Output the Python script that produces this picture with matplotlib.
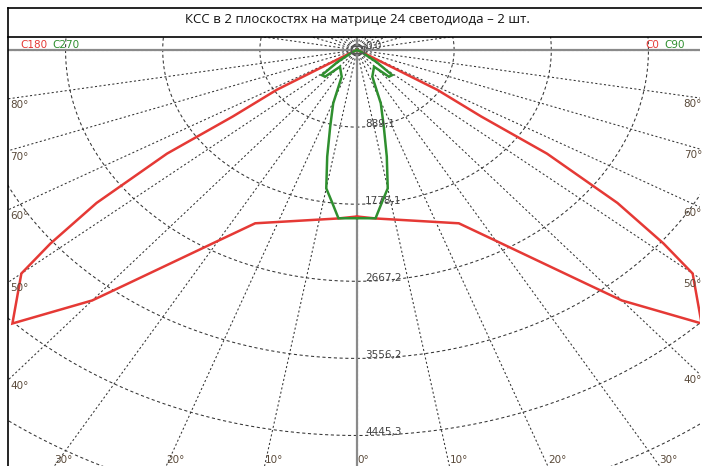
import matplotlib

matplotlib.use("Agg")
import matplotlib.pyplot as plt
import numpy as np
from matplotlib.lines import Line2D

# luminous intensity (angle from nadir, deg -> cd)
ANG_C0 = [0, 5, 25, 30, 38, 40, 45, 50, 51.5, 53.5, 55.5, 56, 58, 58.5, 60, 90]
INT_C0 = [1920, 1950, 2205, 2540, 3430, 3770, 4460, 4010, 3585, 2965, 2110,
          1370, 865, 255, 80, 0]
ANG_C180 = ANG_C0
INT_C180 = INT_C0

ANG_C90 = [0, 5, 7.5, 10, 12.5, 15.5, 19.5, 24.5, 39, 43.5, 48, 52, 60, 90]
INT_C90 = [1940, 1948, 1765, 1620, 1260, 918, 652, 338, 248, 425, 433, 230, 50, 0]
ANG_C270 = ANG_C90
INT_C270 = INT_C90

RING_STEP = 889.1
RING_LABELS = ["0,0", "889,1", "1778,1", "2667,2", "3556,2", "4445,3"]
BOTTOM_TICKS = [-30, -20, -10, 0, 10, 20, 30]
SIDE_TICKS = [40, 50, 60, 70, 80]

TITLE = "КСС в 2 плоскостях на матрице 24 светодиода – 2 шт."

RED = "#e53935"
GREEN = "#2f8f2f"
LBL = "#5a4a3a"

W, H = 702, 466
# pixel geometry of the plot box
X0, X1, Y0, Y1 = 8, 700, 37, 466
CX, CY = 357, 50
PX_V = 77.1           # px per ring, vertical
PX_H = 77.1 * 1.26    # px per ring, horizontal (chart is stretched)
UX = RING_STEP / PX_H
UY = RING_STEP / PX_V


def xy(ang, val, side):
    a = np.radians(ang)
    v = np.asarray(val, float)
    return side * v * np.sin(a), -v * np.cos(a)


fig = plt.figure(figsize=(W / 100, H / 100), dpi=100)
ax = fig.add_axes([X0 / W, 0, (X1 - X0) / W, (Y1 - Y0) / H])
ax.set_xlim(-(CX - X0) * UX, (X1 - CX) * UX)
ax.set_ylim(-(Y1 - CY) * UY, (CY - Y0) * UY)
ax.set_axis_off()

# rings
t = np.linspace(0, 2 * np.pi, 721)
for k in range(1, 9):
    r = k * RING_STEP
    ax.plot(r * np.cos(t), r * np.sin(t), color="#333333", lw=0.75,
            ls=(0, (3, 2.5)), zorder=1)
# rays every 10 deg
for a in range(0, 360, 10):
    ar = np.radians(a)
    ax.plot([0, 20000 * np.sin(ar)], [0, -20000 * np.cos(ar)], color="#333333",
            lw=0.75, ls=(0, (2, 2.2)), zorder=1)

ax.axhline(0, color="#8a8a8a", lw=1.6, zorder=2)
ax.axvline(0, color="#8a8a8a", lw=1.6, zorder=2)

for ang, val, side, col in [(ANG_C0, INT_C0, 1, RED), (ANG_C180, INT_C180, -1, RED),
                            (ANG_C90, INT_C90, 1, GREEN), (ANG_C270, INT_C270, -1, GREEN)]:
    x, y = xy(ang, val, side)
    ax.plot(x, y, color=col, lw=1.8, zorder=4, solid_joinstyle="miter")

# small box at the origin
ax.add_patch(plt.Rectangle((-6 * UX, -3 * UY), 13 * UX, 7 * UY, fill=False,
                           ec="#555555", lw=1.0, zorder=5))

fs = 7.5
for k, lab in enumerate(RING_LABELS):
    ax.annotate(lab, (0, -k * RING_STEP), xytext=(8, -1.5), textcoords="offset pixels",
                ha="left", va="bottom", fontsize=fs, color="#444444", zorder=6)

ylo = ax.get_ylim()[0]
for a in BOTTOM_TICKS:
    xb = -ylo * np.tan(np.radians(a))
    ax.annotate(f"{abs(a)}°", (xb, ylo), xytext=(0, 1), textcoords="offset pixels",
                ha="left", va="bottom", fontsize=fs, color=LBL, zorder=6)

xl, xr = ax.get_xlim()
for a in SIDE_TICKS:
    tn = np.tan(np.radians(a))
    ax.annotate(f"{a}°", (xl, xl / tn), xytext=(2, -1), textcoords="offset pixels",
                ha="left", va="top", fontsize=fs, color=LBL, zorder=6)
    ax.annotate(f"{a}°", (xr, -xr / tn), xytext=(2, -1), textcoords="offset pixels",
                ha="right", va="top", fontsize=fs, color=LBL, zorder=6)

# plane labels
fig.text(20 / W, 1 - 45 / H, "C180", color=RED, fontsize=7.5, va="center")
fig.text(52 / W, 1 - 45 / H, "C270", color=GREEN, fontsize=7.5, va="center")
fig.text(645 / W, 1 - 45 / H, "C0", color=RED, fontsize=7.5, va="center")
fig.text(664 / W, 1 - 45 / H, "C90", color=GREEN, fontsize=7.5, va="center")

fig.text(CX / W, 1 - 19 / H, TITLE, ha="center", va="center", fontsize=9.5,
         family="Open Sans", color="#111111")

# frame
for xs, ys in [((X0, X0), (8, H)), ((X0, W), (8, 8)), ((X0, W), (Y0, Y0))]:
    fig.add_artist(Line2D([x / W for x in xs], [1 - y / H for y in ys],
                          color="black", lw=1.2))

fig.savefig("out.png", dpi=100)
